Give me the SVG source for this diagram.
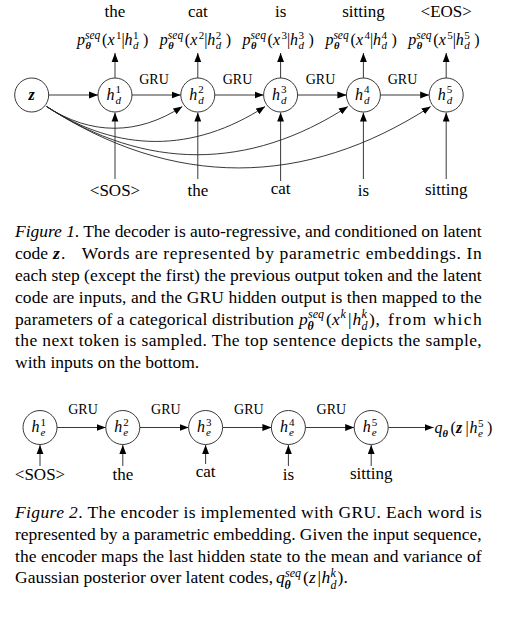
<svg xmlns="http://www.w3.org/2000/svg" width="513" height="617" viewBox="0 0 513 617">
<style>
text{font-family:"Liberation Serif","Times New Roman",serif;fill:#000}
.w{font-size:17px;text-anchor:middle}
.g{font-size:14px;text-anchor:middle}
.m{font-size:16px;font-style:italic}
.r{font-size:16px}
.s{font-size:11px;font-style:italic}
.sq{font-size:11.5px;font-style:italic}
.n{font-size:11px}
.b{font-size:10.5px;font-style:italic;font-weight:bold}
.zb{font-size:16px;font-style:italic;font-weight:bold}
.c{font-size:17.5px}
.cm{font-size:17.5px;font-style:italic}
.cr{font-size:17.5px}
.cs{font-size:12px;font-style:italic}
.cb{font-size:12px;font-style:italic;font-weight:bold}
circle{fill:#fff;stroke:#222;stroke-width:0.9}
.e{fill:none;stroke:#222;stroke-width:0.9;marker-end:url(#ah)}
</style>
<defs>
<marker id="ah" markerUnits="userSpaceOnUse" viewBox="0 0 9 8" markerWidth="9" markerHeight="8" refX="9" refY="4" orient="auto">
<path d="M0,0.6 L9,4 L0,7.4 Z" fill="#000"/>
</marker>
</defs>

<g id="connectors">
<path class="e" d="M48.7,95 H98"/>
<path class="e" d="M132,95 H180.8"/>
<path class="e" d="M214.8,95 H263.6"/>
<path class="e" d="M297.6,95 H346.4"/>
<path class="e" d="M380.4,95 H429.2"/>
<path class="e" d="M115,78 V53"/>
<path class="e" d="M197.8,78 V53"/>
<path class="e" d="M280.6,78 V53"/>
<path class="e" d="M363.4,78 V53"/>
<path class="e" d="M446.2,78 V53"/>
<path class="e" d="M115,179 V112.5"/>
<path class="e" d="M197.8,179 V112.5"/>
<path class="e" d="M280.6,181 V112.5"/>
<path class="e" d="M363.4,179 V112.5"/>
<path class="e" d="M446.2,179 V112.5"/>
<path class="e" d="M46.5,106.5 C91.1,135.5 137.7,135.5 182.3,106.5"/>
<path class="e" d="M46.5,106.5 C118.3,153.1 193.3,153.1 265.1,106.5"/>
<path class="e" d="M46.5,106.5 C145.5,170.8 248.9,170.8 347.9,106.5"/>
<path class="e" d="M46.5,106.5 C172.6,188.4 304.6,188.4 430.7,106.5"/>
<text class="g" x="154" y="84">GRU</text>
<text class="g" x="237.5" y="84">GRU</text>
<text class="g" x="320.5" y="84">GRU</text>
<text class="g" x="402.5" y="84">GRU</text>
<path class="e" d="M57,427.5 H105.8"/>
<path class="e" d="M139.8,427.5 H188.6"/>
<path class="e" d="M222.6,427.5 H271.4"/>
<path class="e" d="M305.4,427.5 H354.2"/>
<path class="e" d="M388.2,427.5 H433.5"/>
<path class="e" d="M40,466 V445"/>
<path class="e" d="M122.8,466 V445"/>
<path class="e" d="M205.6,464 V445"/>
<path class="e" d="M288.4,466 V445"/>
<path class="e" d="M371.2,466 V445"/>
<text class="g" x="83" y="414">GRU</text>
<text class="g" x="165.8" y="414">GRU</text>
<text class="g" x="248.8" y="414">GRU</text>
<text class="g" x="331.3" y="414">GRU</text>
</g>

<g id="z">
<circle cx="31.7" cy="95" r="17"/>
<text class="zb" x="31.7" y="99.5" text-anchor="middle">z</text>
</g>
<g id="hd1">
<circle cx="115" cy="95" r="17"/>
<text class="m" x="106.5" y="99.5">h</text><text class="n" x="115.5" y="93">1</text><text class="s" x="115.5" y="103.5">d</text>
</g>
<g id="hd2">
<circle cx="197.8" cy="95" r="17"/>
<text class="m" x="189.3" y="99.5">h</text><text class="n" x="198.3" y="93">2</text><text class="s" x="198.3" y="103.5">d</text>
</g>
<g id="hd3">
<circle cx="280.6" cy="95" r="17"/>
<text class="m" x="272.1" y="99.5">h</text><text class="n" x="281.1" y="93">3</text><text class="s" x="281.1" y="103.5">d</text>
</g>
<g id="hd4">
<circle cx="363.4" cy="95" r="17"/>
<text class="m" x="354.9" y="99.5">h</text><text class="n" x="363.9" y="93">4</text><text class="s" x="363.9" y="103.5">d</text>
</g>
<g id="hd5">
<circle cx="446.2" cy="95" r="17"/>
<text class="m" x="437.7" y="99.5">h</text><text class="n" x="446.7" y="93">5</text><text class="s" x="446.7" y="103.5">d</text>
</g>

<g id="out1">
<text class="w" x="115" y="17">the</text>
<text class="m" x="77" y="45">p</text><text class="sq" x="85" y="38.5">seq</text><text class="b" x="85.5" y="49">θ</text>
<text class="r" x="102" y="45">(</text><text class="m" x="107.5" y="45">x</text><text class="n" x="116" y="38.5">1</text>
<text class="r" x="121.5" y="45">|</text><text class="m" x="124.5" y="45">h</text><text class="n" x="133" y="38.5">1</text><text class="s" x="133" y="49">d</text>
<text class="r" x="143" y="45">)</text>
</g>
<g id="out2">
<text class="w" x="197.8" y="17">cat</text>
<text class="m" x="159.8" y="45">p</text><text class="sq" x="167.8" y="38.5">seq</text><text class="b" x="168.3" y="49">θ</text>
<text class="r" x="184.8" y="45">(</text><text class="m" x="190.3" y="45">x</text><text class="n" x="198.8" y="38.5">2</text>
<text class="r" x="204.3" y="45">|</text><text class="m" x="207.3" y="45">h</text><text class="n" x="215.8" y="38.5">2</text><text class="s" x="215.8" y="49">d</text>
<text class="r" x="225.8" y="45">)</text>
</g>
<g id="out3">
<text class="w" x="280.6" y="17">is</text>
<text class="m" x="242.6" y="45">p</text><text class="sq" x="250.6" y="38.5">seq</text><text class="b" x="251.1" y="49">θ</text>
<text class="r" x="267.6" y="45">(</text><text class="m" x="273.1" y="45">x</text><text class="n" x="281.6" y="38.5">3</text>
<text class="r" x="287.1" y="45">|</text><text class="m" x="290.1" y="45">h</text><text class="n" x="298.6" y="38.5">3</text><text class="s" x="298.6" y="49">d</text>
<text class="r" x="308.6" y="45">)</text>
</g>
<g id="out4">
<text class="w" x="363.4" y="17">sitting</text>
<text class="m" x="325.4" y="45">p</text><text class="sq" x="333.4" y="38.5">seq</text><text class="b" x="333.9" y="49">θ</text>
<text class="r" x="350.4" y="45">(</text><text class="m" x="355.9" y="45">x</text><text class="n" x="364.4" y="38.5">4</text>
<text class="r" x="369.9" y="45">|</text><text class="m" x="372.9" y="45">h</text><text class="n" x="381.4" y="38.5">4</text><text class="s" x="381.4" y="49">d</text>
<text class="r" x="391.4" y="45">)</text>
</g>
<g id="out5">
<text class="w" x="446.2" y="17">&lt;EOS&gt;</text>
<text class="m" x="408.2" y="45">p</text><text class="sq" x="416.2" y="38.5">seq</text><text class="b" x="416.7" y="49">θ</text>
<text class="r" x="433.2" y="45">(</text><text class="m" x="438.7" y="45">x</text><text class="n" x="447.2" y="38.5">5</text>
<text class="r" x="452.7" y="45">|</text><text class="m" x="455.7" y="45">h</text><text class="n" x="464.2" y="38.5">5</text><text class="s" x="464.2" y="49">d</text>
<text class="r" x="474.2" y="45">)</text>
</g>

<g id="in1"><text class="w" x="115" y="196">&lt;SOS&gt;</text></g>
<g id="in2"><text class="w" x="197.8" y="196">the</text></g>
<g id="in3"><text class="w" x="280.6" y="194">cat</text></g>
<g id="in4"><text class="w" x="363.4" y="196">is</text></g>
<g id="in5"><text class="w" x="446.2" y="195">sitting</text></g>

<g id="caption1">
<text class="c" x="15" y="237.3" textLength="466.7" lengthAdjust="spacing"><tspan font-style="italic">Figure 1</tspan>. The decoder is auto-regressive, and conditioned on latent</text>
<text class="c" x="15" y="259.1">code</text>
<text x="53" y="259.1" style="font-size:17.5px;font-style:italic;font-weight:bold">z</text>
<text class="c" x="61" y="259.1">.</text>
<text class="c" x="81.7" y="259.1" textLength="400" lengthAdjust="spacing">Words are represented by parametric embeddings.  In</text>
<text class="c" x="15" y="280.9" textLength="466.7" lengthAdjust="spacing">each step (except the first) the previous output token and the latent</text>
<text class="c" x="15" y="302.7" textLength="466.7" lengthAdjust="spacing">code are inputs, and the GRU hidden output is then mapped to the</text>
<text class="c" x="15" y="324.5" textLength="279" lengthAdjust="spacing">parameters of a categorical distribution</text>
<text class="cm" x="299" y="324.5">p</text><text class="cs" x="308" y="318">seq</text><text class="cb" x="307.5" y="329.5">θ</text>
<text class="cr" x="326" y="324.5">(</text><text class="cm" x="332" y="324.5">x</text><text class="cs" x="340.5" y="318">k</text>
<text class="cr" x="348" y="324.5">|</text><text class="cm" x="352.5" y="324.5">h</text><text class="cs" x="361.5" y="318">k</text><text class="cs" x="361.5" y="329.5">d</text>
<text class="cr" x="369" y="324.5">)</text><text class="c" x="375.5" y="324.5">,</text>
<text class="c" x="388" y="324.5" textLength="93.7" lengthAdjust="spacing">from which</text>
<text class="c" x="15" y="346.3" textLength="466.7" lengthAdjust="spacing">the next token is sampled. The top sentence depicts the sample,</text>
<text class="c" x="15" y="368.1">with inputs on the bottom.</text>
</g>

<g id="he1">
<circle cx="40" cy="427.5" r="17"/>
<text class="m" x="31.5" y="432">h</text><text class="n" x="40.5" y="425.5">1</text><text class="s" x="40.5" y="435.5">e</text>
</g>
<g id="he2">
<circle cx="122.8" cy="427.5" r="17"/>
<text class="m" x="114.3" y="432">h</text><text class="n" x="123.3" y="425.5">2</text><text class="s" x="123.3" y="435.5">e</text>
</g>
<g id="he3">
<circle cx="205.6" cy="427.5" r="17"/>
<text class="m" x="197.1" y="432">h</text><text class="n" x="206.1" y="425.5">3</text><text class="s" x="206.1" y="435.5">e</text>
</g>
<g id="he4">
<circle cx="288.4" cy="427.5" r="17"/>
<text class="m" x="279.9" y="432">h</text><text class="n" x="288.9" y="425.5">4</text><text class="s" x="288.9" y="435.5">e</text>
</g>
<g id="he5">
<circle cx="371.2" cy="427.5" r="17"/>
<text class="m" x="362.7" y="432">h</text><text class="n" x="371.7" y="425.5">5</text><text class="s" x="371.7" y="435.5">e</text>
</g>
<g id="q">
<text class="m" x="434.5" y="433">q</text><text class="b" x="442.5" y="437">θ</text>
<text class="r" x="450.5" y="433">(</text><text class="zb" x="456" y="433">z</text>
<text class="r" x="465.5" y="433">|</text><text class="m" x="469.5" y="433">h</text><text class="n" x="478" y="426.5">5</text><text class="s" x="478" y="437">e</text>
<text class="r" x="487" y="433">)</text>
</g>

<g id="ein1"><text class="w" x="40" y="480">&lt;SOS&gt;</text></g>
<g id="ein2"><text class="w" x="122.8" y="480">the</text></g>
<g id="ein3"><text class="w" x="205.6" y="477">cat</text></g>
<g id="ein4"><text class="w" x="288.4" y="480">is</text></g>
<g id="ein5"><text class="w" x="371.2" y="478.5">sitting</text></g>

<g id="caption2">
<text class="c" x="15" y="518.3" textLength="466.7" lengthAdjust="spacing"><tspan font-style="italic">Figure 2</tspan>. The encoder is implemented with GRU. Each word is</text>
<text class="c" x="15" y="540" textLength="466.7" lengthAdjust="spacing">represented by a parametric embedding. Given the input sequence,</text>
<text class="c" x="15" y="561.7" textLength="466.7" lengthAdjust="spacing">the encoder maps the last hidden state to the mean and variance of</text>
<text class="c" x="15" y="583.3">Gaussian posterior over latent codes,</text>
<text class="cm" x="276" y="583.3">q</text><text class="cs" x="285" y="577">seq</text><text class="cb" x="284.5" y="588.5">θ</text>
<text class="cr" x="303" y="583.3">(</text><text class="cm" x="309" y="583.3">z</text>
<text class="cr" x="317.5" y="583.3">|</text><text class="cm" x="321.5" y="583.3">h</text><text class="cs" x="330.5" y="577">k</text><text class="cs" x="330.5" y="588.5">d</text>
<text class="cr" x="337.5" y="583.3">)</text><text class="c" x="343.5" y="583.3">.</text>
</g>
</svg>
